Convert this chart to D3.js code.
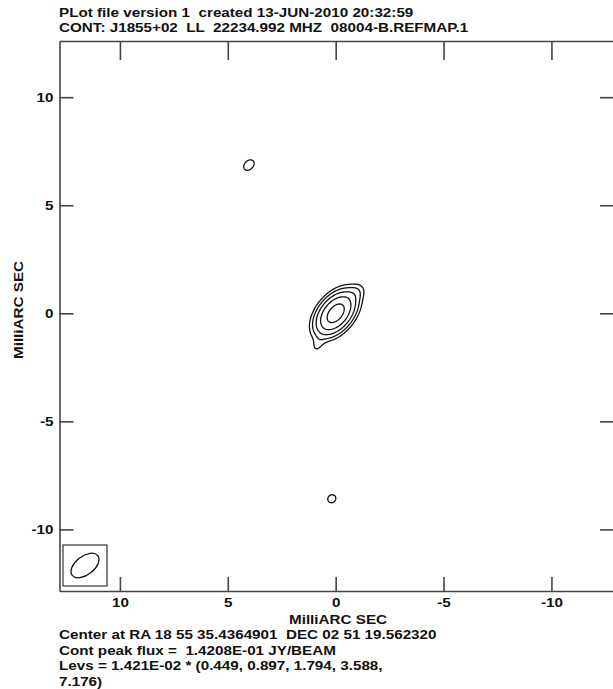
<!DOCTYPE html>
<html>
<head>
<meta charset="utf-8">
<script src="https://cdn.jsdelivr.net/npm/d3@7"></script>
<style>
  html, body { margin: 0; padding: 0; background: #fff; }
  svg { display: block; }
  text { font-family: "Liberation Sans", Arial, Helvetica, sans-serif; font-weight: bold; fill: #111; white-space: pre; }
</style>
</head>
<body>
<svg id="plot" width="613" height="689"></svg>
<script>
// Header and footer annotation lines
const titleLines = [
  "PLot file version 1  created 13-JUN-2010 20:32:59",
  "CONT: J1855+02  LL  22234.992 MHZ  08004-B.REFMAP.1"
];
const footerLines = [
  "Center at RA 18 55 35.4364901  DEC 02 51 19.562320",
  "Cont peak flux =  1.4208E-01 JY/BEAM",
  "Levs = 1.421E-02 * (0.449, 0.897, 1.794, 3.588,",
  "7.176)"
];
const axisLabel = "MilliARC SEC";

// Axis ticks (milliarcseconds)
const xTicks = [10, 5, 0, -5, -10];
const yTicks = [10, 5, 0, -5, -10];

// Contour levels: base level times multipliers (Jy/beam)
const levelBase = 1.421e-2;
const levelMultipliers = [0.449, 0.897, 1.794, 3.588, 7.176];
const peakFlux = 0.14208;

// Brightness model: elliptical Gaussian components
// offsets in mas (x = RA offset, east positive), peak in Jy/beam,
// FWHM major/minor in mas, position angle in degrees (east of north)
const compX    = [0.00, -0.95,  0.85,  4.02,  0.18];
const compY    = [0.00,  0.95, -1.50,  6.86, -8.58];
const compPeak = [0.1418, 0.0075, 0.0060, 0.0099, 0.0098];
const compMaj  = [1.45, 0.80, 0.75, 0.70, 0.50];
const compMin  = [0.88, 0.55, 0.45, 0.50, 0.45];
const compPA   = [-40, -45, -25, -45, -45];

// Restoring beam (FWHM mas, PA deg)
const beamMaj = 1.50, beamMin = 0.86, beamPA = -52;

const svg = d3.select("#plot");
// Lettering: bold sans, slightly widened
const fontSize = "13.6px";
const widen = 1.12;

// Plot frame in pixels
const frame = { left: 59.5, right: 614, top: 41, bottom: 591 };
const x = d3.scaleLinear().domain([12.8, -12.9]).range([frame.left, frame.right]);
const y = d3.scaleLinear().domain([12.6, -12.85]).range([frame.top, frame.bottom]);

function label(tx, ty, str, anchor, rot) {
  svg.append("text")
    .attr("transform", `translate(${tx},${ty})${rot ? ` rotate(${rot})` : ""} scale(${widen},1)`)
    .attr("text-anchor", anchor || "start")
    .style("font-size", fontSize)
    .text(str);
}

// Title
titleLines.forEach((s, i) => label(59, 16.7 + i * 14.8, s));

// Evaluate model on a grid
const step = 0.04, gStart = 13;
const n = Math.round(2 * gStart / step) + 1;
const values = new Float64Array(n * n);
const comps = compX.map((_, k) => {
  const pa = compPA[k] * Math.PI / 180;
  return { x0: compX[k], y0: compY[k], p: compPeak[k],
           s: Math.sin(pa), c: Math.cos(pa),
           a2: compMaj[k] * compMaj[k], b2: compMin[k] * compMin[k] };
});
const k4 = 4 * Math.LN2;
for (let j = 0; j < n; j++) {
  const ym = gStart - j * step;
  for (let i = 0; i < n; i++) {
    const xm = gStart - i * step;
    let v = 0;
    for (const c of comps) {
      const dx = xm - c.x0, dy = ym - c.y0;
      const u = dx * c.s + dy * c.c;
      const w = dx * c.c - dy * c.s;
      const e = k4 * (u * u / c.a2 + w * w / c.b2);
      if (e < 40) v += c.p * Math.exp(-e);
    }
    values[i + j * n] = v;
  }
}

const levels = levelMultipliers.map(m => m * levelBase);
const contours = d3.contours().size([n, n]).thresholds(levels)(values);

const toPixels = d3.geoTransform({
  point(gx, gy) {
    const xm = gStart - (gx - 0.5) * step;
    const ym = gStart - (gy - 0.5) * step;
    this.stream.point(x(xm), y(ym));
  }
});
const path = d3.geoPath(toPixels);

svg.append("g")
  .selectAll("path").data(contours).join("path")
  .attr("d", path)
  .attr("fill", "none")
  .attr("stroke", "#111")
  .attr("stroke-width", 1.3)
  .attr("stroke-linejoin", "round");

// Axes: inward ticks on all four sides
const axisStroke = "#444";
function styleAxis(g) {
  g.selectAll("path.domain").attr("stroke", axisStroke).attr("stroke-width", 1.6);
  g.selectAll(".tick line").attr("stroke", axisStroke).attr("stroke-width", 1.6);
  g.selectAll(".tick text")
    .style("font-size", fontSize)
    .style("font-family", "'Liberation Sans', Arial, Helvetica, sans-serif")
    .style("font-weight", "bold")
    .attr("fill", "#111");
}
const plainNumber = d => String(d);

const gBottom = svg.append("g").attr("transform", `translate(0,${frame.bottom})`)
  .call(d3.axisBottom(x).tickValues(xTicks).tickSizeInner(-14).tickSizeOuter(0)
    .tickPadding(6).tickFormat(plainNumber))
  .call(styleAxis);
gBottom.selectAll(".tick text").attr("transform", `scale(${widen},1)`).attr("x", 0);

svg.append("g").attr("transform", `translate(0,${frame.top})`)
  .call(d3.axisTop(x).tickValues(xTicks).tickSizeInner(-19).tickSizeOuter(0).tickFormat(""))
  .call(styleAxis);

const gLeft = svg.append("g").attr("transform", `translate(${frame.left},0)`)
  .call(d3.axisLeft(y).tickValues(yTicks).tickSizeInner(-14).tickSizeOuter(0)
    .tickPadding(6).tickFormat(plainNumber))
  .call(styleAxis);
gLeft.selectAll(".tick text")
  .attr("x", -6 / widen)
  .attr("transform", `scale(${widen},1)`);

svg.append("g").attr("transform", `translate(${frame.right},0)`)
  .call(d3.axisRight(y).tickValues(yTicks).tickSizeInner(-14).tickSizeOuter(0).tickFormat(""))
  .call(styleAxis);

// Axis titles
label(338, 623.5, axisLabel, "middle");
label(23, 310, axisLabel, "middle", -90);

// Footer
footerLines.forEach((s, i) => label(59, 639 + i * 15.5, s));

// Beam box and beam ellipse
const box = { x: 63, y: 545, w: 44, h: 41 };
svg.append("rect")
  .attr("x", box.x).attr("y", box.y).attr("width", box.w).attr("height", box.h)
  .attr("fill", "none").attr("stroke", axisStroke).attr("stroke-width", 1.3);

const pxPerMasX = Math.abs(x(1) - x(0));
const pxPerMasY = Math.abs(y(1) - y(0));
svg.append("ellipse")
  .attr("transform", `translate(${box.x + box.w / 2},${box.y + box.h / 2}) rotate(${-(90 + beamPA)})`)
  .attr("rx", beamMaj / 2 * pxPerMasX)
  .attr("ry", beamMin / 2 * pxPerMasY)
  .attr("fill", "none").attr("stroke", "#111").attr("stroke-width", 1.3);
</script>
</body>
</html>
